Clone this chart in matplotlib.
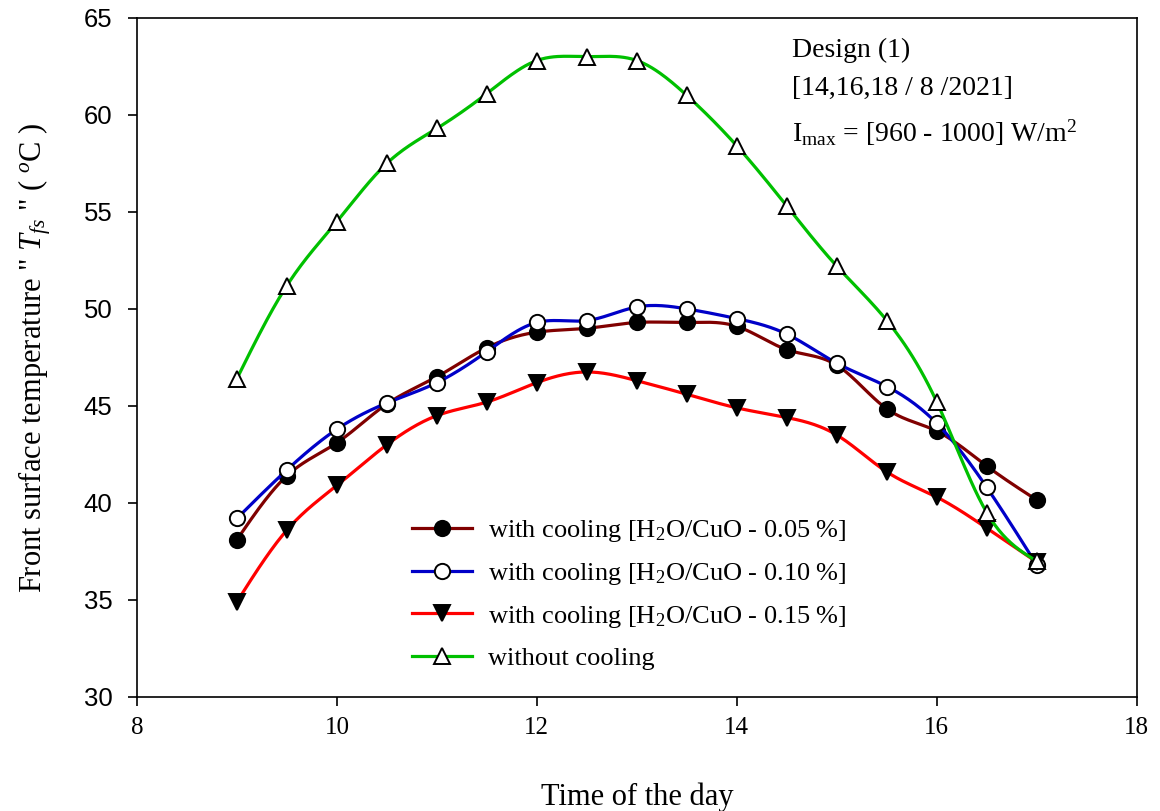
import numpy as np
import matplotlib
matplotlib.use("Agg")
import matplotlib.pyplot as plt
from matplotlib.lines import Line2D

plt.rcParams['mathtext.fontset'] = 'custom'
plt.rcParams['mathtext.rm'] = 'Liberation Serif'
plt.rcParams['mathtext.it'] = 'Liberation Serif:italic'

# data
time_h = [9, 9.5, 10, 10.5, 11, 11.5, 12, 12.5, 13, 13.5, 14, 14.5, 15, 15.5, 16, 16.5, 17]
t_005 = [38.1, 41.4, 43.1, 45.1, 46.5, 48.0, 48.8, 49.0, 49.3, 49.3, 49.1, 47.9, 47.1, 44.85, 43.7, 41.9, 40.15]
t_010 = [39.2, 41.7, 43.8, 45.15, 46.2, 47.8, 49.3, 49.4, 50.1, 50.0, 49.5, 48.7, 47.2, 46.0, 44.1, 40.8, 36.8]
t_015 = [34.9, 38.6, 40.9, 43.0, 44.5, 45.2, 46.2, 46.75, 46.3, 45.6, 44.9, 44.4, 43.5, 41.6, 40.3, 38.7, 36.95]
t_none = [46.4, 51.2, 54.5, 57.5, 59.3, 61.1, 62.8, 63.0, 62.8, 61.0, 58.4, 55.3, 52.2, 49.4, 45.2, 39.5, 37.0]

labels = ["with cooling [H$_2$O/CuO - 0.05 %]",
          "with cooling [H$_2$O/CuO - 0.10 %]",
          "with cooling [H$_2$O/CuO - 0.15 %]",
          "without cooling"]


def spline(x, y, n=400):
    # natural cubic spline through the points, for the smooth curves
    x = np.asarray(x, float)
    y = np.asarray(y, float)
    k = len(x)
    h = np.diff(x)
    A = np.zeros((k, k))
    b = np.zeros(k)
    A[0, 0] = A[-1, -1] = 1
    for i in range(1, k - 1):
        A[i, i - 1] = h[i - 1]
        A[i, i] = 2 * (h[i - 1] + h[i])
        A[i, i + 1] = h[i]
        b[i] = 6 * ((y[i + 1] - y[i]) / h[i] - (y[i] - y[i - 1]) / h[i - 1])
    M = np.linalg.solve(A, b)
    xs = np.linspace(x[0], x[-1], n)
    idx = np.clip(np.searchsorted(x, xs) - 1, 0, k - 2)
    x0, x1 = x[idx], x[idx + 1]
    hh = x1 - x0
    a = (x1 - xs) / hh
    c = (xs - x0) / hh
    ys = (a * y[idx] + c * y[idx + 1]
          + ((a ** 3 - a) * M[idx] + (c ** 3 - c) * M[idx + 1]) * hh ** 2 / 6)
    return xs, ys


fig = plt.figure(figsize=(11.6, 8.11), dpi=100)
ax = fig.add_axes([0.118, 0.1406, 0.862, 0.8374])

series = [
    (t_005, "#800000", "o", "black"),
    (t_010, "#0000c8", "o", "white"),
    (t_015, "#ff0000", "v", "black"),
    (t_none, "#00c000", "^", "white"),
]

handles = []
for (vals, col, mk, fc), lab in zip(series, labels):
    xs, ys = spline(time_h, vals)
    ax.plot(xs, ys, color=col, lw=2.3)
    ms = 11 if mk == "o" else 12
    ax.plot(time_h, vals, linestyle="none", marker=mk, markersize=ms,
            markerfacecolor=fc, markeredgecolor="black", markeredgewidth=1.4)
    handles.append(Line2D([], [], color=col, lw=2.3, marker=mk, markersize=ms,
                          markerfacecolor=fc, markeredgecolor="black",
                          markeredgewidth=1.4))

ax.set_xlim(8, 18)
ax.set_ylim(30, 65)
ax.set_xticks([8, 10, 12, 14, 16, 18])
ax.set_yticks([30, 35, 40, 45, 50, 55, 60, 65])

for s in ax.spines.values():
    s.set_linewidth(1.2)
ax.tick_params(direction="out", length=6.5, width=1.2)
ax.tick_params(axis="y", labelsize=18.5, pad=11)
ax.tick_params(axis="x", labelsize=18, pad=8)
for t in ax.get_xticklabels():
    t.set_family("Liberation Serif")
for t in ax.get_yticklabels():
    t.set_family("Liberation Sans")

ax.set_xlabel("Time of the day", family="Liberation Serif", fontsize=22, labelpad=31)
ax.set_ylabel('Front surface temperature " $T_{fs}$ " ( $^{o}$C )',
              family="Liberation Serif", fontsize=22, labelpad=22)

ax.legend(handles, labels, loc="lower left", bbox_to_anchor=(0.251, 0.005),
          frameon=False, prop={"family": "Liberation Serif", "size": 19},
          handlelength=2.3, handletextpad=0.6, labelspacing=0.63)

ax.text(0.655, 0.971, "Design (1)\n[14,16,18 / 8 /2021]\nI$_{\\mathrm{max}}$ = [960 - 1000] W/m$^2$",
        transform=ax.transAxes, ha="left", va="top", family="Liberation Serif",
        fontsize=20, linespacing=1.7)

fig.savefig("out.png", dpi=100)
